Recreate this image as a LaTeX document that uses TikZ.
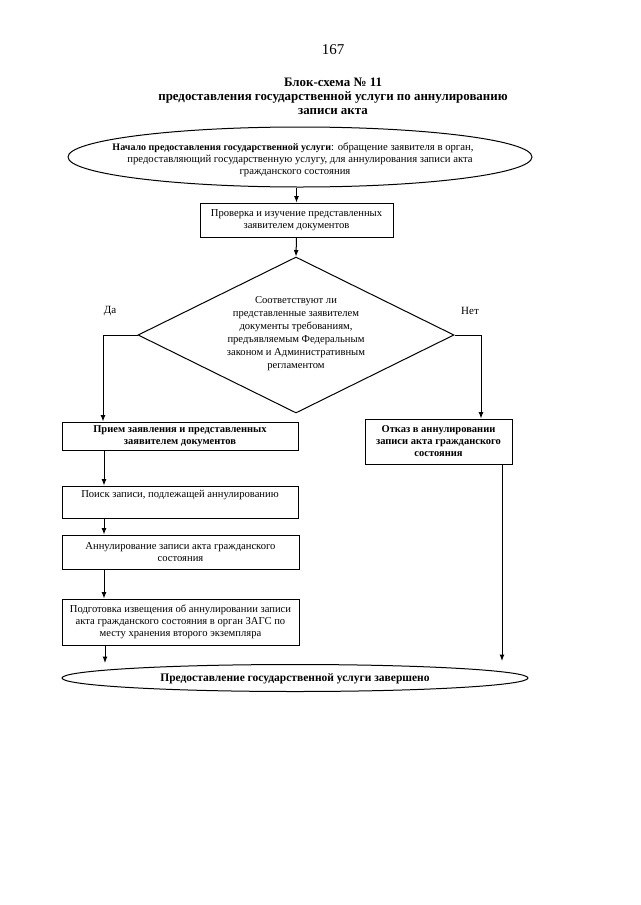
\documentclass[tikz,border=0pt]{standalone}
\usepackage{fontspec}
\setmainfont{Liberation Serif}
\usetikzlibrary{shapes.geometric,arrows.meta}
\begin{document}
\begin{tikzpicture}[x=1pt,y=-1pt,
  txt/.style={font=\fontsize{10.6}{12}\selectfont, align=center, inner sep=0pt},
  box/.style={draw, line width=1pt, rectangle, inner sep=0pt, align=center,
    font=\fontsize{10.6}{12}\selectfont},
  oval/.style={draw, line width=1pt, ellipse, inner sep=0pt},
  arr/.style={line width=1pt, -{Latex[length=6.5pt,width=5pt]}},
  ln/.style={line width=1pt}]
\useasboundingbox (0,0) rectangle (640,905);

% header
\node[inner sep=0pt, font=\fontsize{15}{17}\selectfont] (pnum) at (333,50) {167};
\node[inner sep=0pt, align=center, font=\fontsize{12.9}{14}\selectfont\bfseries] (title) at (333,96)
  {Блок-схема № 11\\ предоставления государственной услуги по аннулированию\\ записи акта};

% start
\node[oval, minimum width=464pt, minimum height=60pt] (start) at (300,157) {};
\node[txt, font=\fontsize{10.7}{12}\selectfont] (starttext) at (300,160)
  {{\fontsize{10}{12}\selectfont\bfseries Начало предоставления государственной услуги}: обращение заявителя в орган,\hspace*{14pt}\\
   предоставляющий государственную услугу, для аннулирования записи акта\\
   гражданского состояния\hspace*{10pt}};

% check box
\node[box, minimum width=193pt, minimum height=34pt] (check) at (296.5,220)
  {Проверка и изучение представленных\\ заявителем документов};

% diamond
\node[draw, line width=1pt, diamond, inner sep=0pt, minimum width=316pt, minimum height=156pt] (dia) at (296,335) {};
\node[txt, font=\fontsize{10.6}{13}\selectfont] (diatext) at (296,334)
  {Соответствуют ли\\ представленные заявителем\\ документы требованиям,\\
   предъявляемым Федеральным\\ законом и Административным\\ регламентом};

\node[txt, font=\fontsize{11}{12}\selectfont] (yes) at (110,311) {Да};
\node[txt, font=\fontsize{11}{12}\selectfont] (no) at (470,311) {Нет};

% left column
\node[box, minimum width=236pt, minimum height=28pt, font=\fontsize{10.5}{12}\selectfont\bfseries] (priem) at (180,436)
  {Прием заявления и представленных\\ заявителем документов};
\node[box, minimum width=236pt, minimum height=32pt] (poisk) at (180,502)
  {Поиск записи, подлежащей аннулированию\\ \strut};
\node[box, minimum width=237pt, minimum height=34pt] (annul) at (180.5,552)
  {Аннулирование записи акта гражданского\\ состояния};
\node[box, minimum width=237pt, minimum height=46pt] (podg) at (180.5,622)
  {Подготовка извещения об аннулировании записи\\ акта гражданского состояния в орган ЗАГС по\\ месту хранения второго экземпляра};

% right column
\node[box, minimum width=147pt, minimum height=45pt, font=\fontsize{10.5}{12}\selectfont\bfseries] (otkaz) at (438.5,441.5)
  {Отказ в аннулировании\\ записи акта гражданского\\ состояния};

% end
\node[oval, minimum width=466pt, minimum height=27pt] (finish) at (295,678) {};
\node[txt, font=\fontsize{11.5}{12}\selectfont\bfseries] (finishtext) at (295,679)
  {Предоставление государственной услуги завершено};

% helper coordinates
\coordinate (yesx) at (103,0);
\coordinate (nox) at (481,0);
\coordinate (lx) at (104,0);
\coordinate (rx) at (502,0);
\coordinate (lend) at (105,663);
\coordinate (rend) at (502,661);

% connectors
\draw[arr] (check.north |- start.south) -- (check.north);
\draw[arr] (check.south) -- (dia.north);
\draw[arr] (dia.west) -- (dia.west -| yesx) -- (yesx |- priem.north);
\draw[arr] (dia.east) -- (dia.east -| nox) -- (nox |- otkaz.north);
\draw[arr] (lx |- priem.south) -- (lx |- poisk.north);
\draw[arr] (lx |- poisk.south) -- (lx |- annul.north);
\draw[arr] (lx |- annul.south) -- (lx |- podg.north);
\draw[arr] (lend |- podg.south) -- (lend);
\draw[arr] (rx |- otkaz.south) -- (rend);
\end{tikzpicture}
\end{document}
